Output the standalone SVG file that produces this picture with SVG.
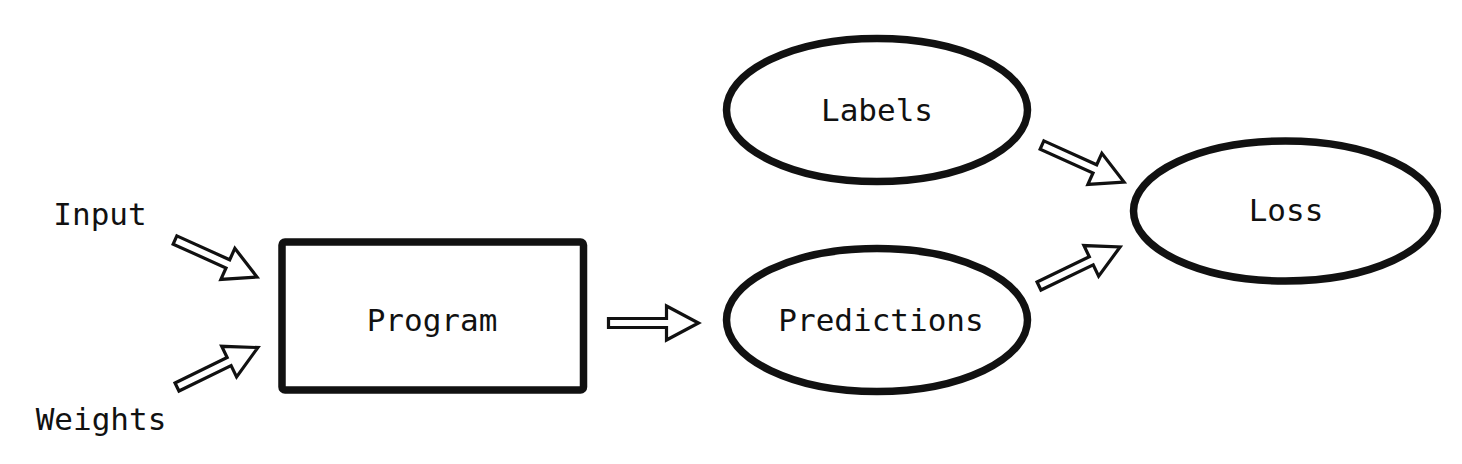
<svg xmlns="http://www.w3.org/2000/svg" width="1462" height="464" viewBox="0 0 1462 464">
  <defs>
    <style>
      .node { fill: #ffffff; stroke: #111111; stroke-width: 7.5; }
      .lbl { font-family: "DejaVu Sans Mono", "Liberation Mono", monospace; font-size: 31px; fill: #111111; text-anchor: middle; dominant-baseline: central; }
      .arrow { fill: #ffffff; stroke: #111111; stroke-width: 3.2; stroke-linejoin: miter; }
    </style>
    <path id="blk" d="M0,-4.5 L58,-4.5 L58,-17 L90,0 L58,17 L58,4.5 L0,4.5 Z"/>
  </defs>
  <rect width="1462" height="464" fill="#ffffff"/>

  <g id="connectors">
    <use href="#blk" class="arrow" transform="translate(175,240) rotate(24.3)"/>
    <use href="#blk" class="arrow" transform="translate(177,387) rotate(-26)"/>
    <use href="#blk" class="arrow" transform="translate(608.5,323)"/>
    <use href="#blk" class="arrow" transform="translate(1042,145) rotate(24.3)"/>
    <use href="#blk" class="arrow" transform="translate(1039,286) rotate(-25.7)"/>
  </g>

  <g id="input">
    <text class="lbl" x="100" y="214">Input</text>
  </g>
  <g id="weights">
    <text class="lbl" x="101" y="419">Weights</text>
  </g>
  <g id="program">
    <rect class="node" x="282" y="242" width="301.5" height="148" rx="3"/>
    <text class="lbl" x="432" y="320">Program</text>
  </g>
  <g id="labels">
    <ellipse class="node" cx="877" cy="110" rx="150.5" ry="71.5"/>
    <text class="lbl" x="877" y="110">Labels</text>
  </g>
  <g id="predictions">
    <ellipse class="node" cx="877" cy="320" rx="150.5" ry="71.5"/>
    <text class="lbl" x="881" y="320">Predictions</text>
  </g>
  <g id="loss">
    <ellipse class="node" cx="1285.5" cy="211" rx="152" ry="70"/>
    <text class="lbl" x="1286" y="210">Loss</text>
  </g>
</svg>
